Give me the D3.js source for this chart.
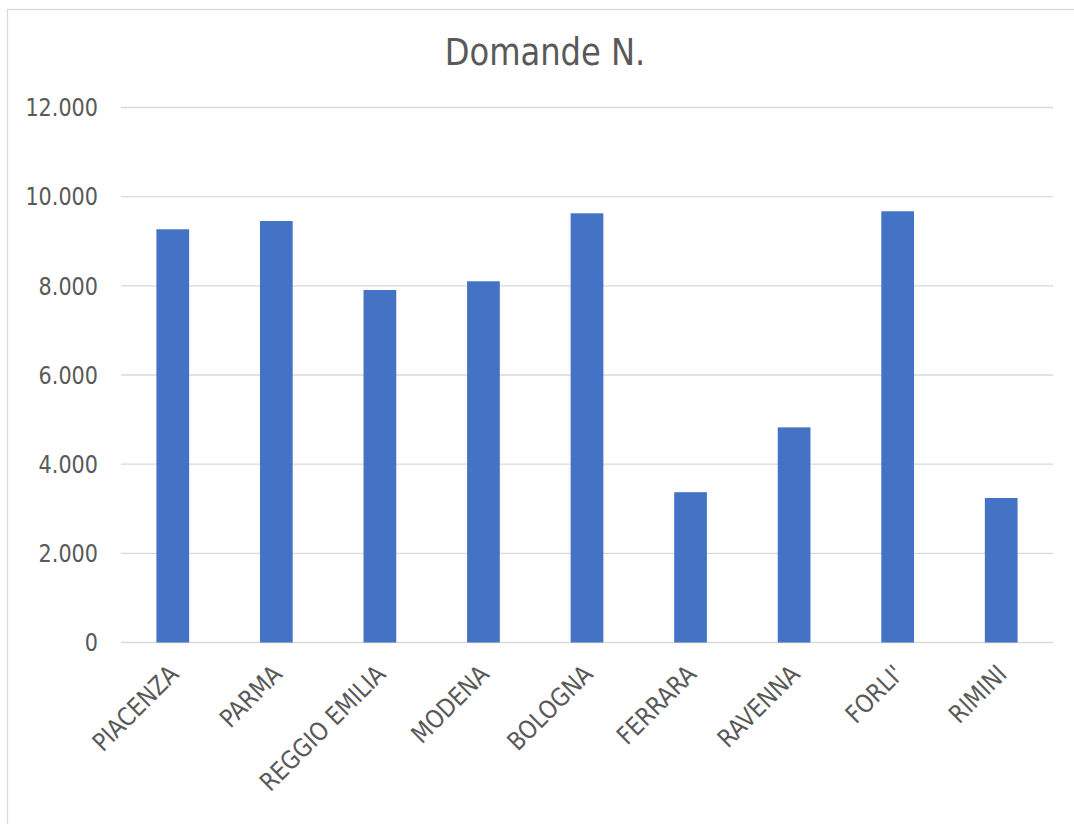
<!DOCTYPE html>
<html>
<head>
<meta charset="utf-8">
<script src="https://cdn.jsdelivr.net/npm/d3@7"></script>
<style>
  html, body { margin: 0; padding: 0; background: #fff; }
  svg { display: block; }
  text { font-family: "DejaVu Sans", Verdana, sans-serif; fill: #595959; }
</style>
</head>
<body>
<svg id="chart" width="1074" height="824"></svg>
<script>
const title = "Domande N.";
const categories = ["PIACENZA", "PARMA", "REGGIO EMILIA", "MODENA", "BOLOGNA", "FERRARA", "RAVENNA", "FORLI'", "RIMINI"];
const values = [9268, 9454, 7907, 8102, 9627, 3371, 4825, 9672, 3241];
const yTicks = [0, 2000, 4000, 6000, 8000, 10000, 12000];
const yTickLabels = ["0", "2.000", "4.000", "6.000", "8.000", "10.000", "12.000"];

const svg = d3.select("#chart");
const W = 1074, H = 824;
const plot = { left: 121, right: 1053, top: 107.5, bottom: 642.5 };
const SX = 0.87;   // narrow the glyphs toward a Tahoma-like width
const SXY = 0.83;  // digits are narrower still

// chart border
svg.append("rect")
  .attr("x", 7.5).attr("y", 9.5)
  .attr("width", W + 20).attr("height", H + 20)
  .attr("fill", "#fff").attr("stroke", "#d9d9d9").attr("stroke-width", 1.3);

const x = d3.scaleBand()
  .domain(categories)
  .range([plot.left, plot.right])
  .paddingInner(0.684)
  .paddingOuter(0.342);

const y = d3.scaleLinear()
  .domain([0, 12000])
  .range([plot.bottom, plot.top]);

// gridlines
svg.append("g")
  .selectAll("line")
  .data(yTicks)
  .join("line")
  .attr("x1", plot.left).attr("x2", plot.right)
  .attr("y1", d => y(d)).attr("y2", d => y(d))
  .attr("stroke", "#d9d9d9").attr("stroke-width", 1.4);

// bars
svg.append("g")
  .selectAll("rect")
  .data(categories)
  .join("rect")
  .attr("x", d => x(d))
  .attr("y", (d, i) => y(values[i]))
  .attr("width", x.bandwidth())
  .attr("height", (d, i) => y(0) - y(values[i]))
  .attr("fill", "#4472C4");

// y tick labels
svg.append("g")
  .selectAll("text")
  .data(yTicks)
  .join("text")
  .attr("transform", d => `translate(98,${y(d)}) scale(${SXY},1)`)
  .attr("dy", "0.35em")
  .attr("text-anchor", "end")
  .attr("font-size", 25)
  .text((d, i) => yTickLabels[i]);

// category labels
svg.append("g")
  .selectAll("text")
  .data(categories)
  .join("text")
  .attr("transform", d => `translate(${x(d) + x.bandwidth() / 2 + 1},${plot.bottom + 27}) rotate(-45) scale(${SX},1)`)
  .attr("dy", "0.35em")
  .attr("text-anchor", "end")
  .attr("font-size", 25)
  .text(d => d);

// title
svg.append("text")
  .attr("transform", `translate(545,65) scale(${SX},1)`)
  .attr("text-anchor", "middle")
  .attr("font-size", 37)
  .text(title);
</script>
</body>
</html>
